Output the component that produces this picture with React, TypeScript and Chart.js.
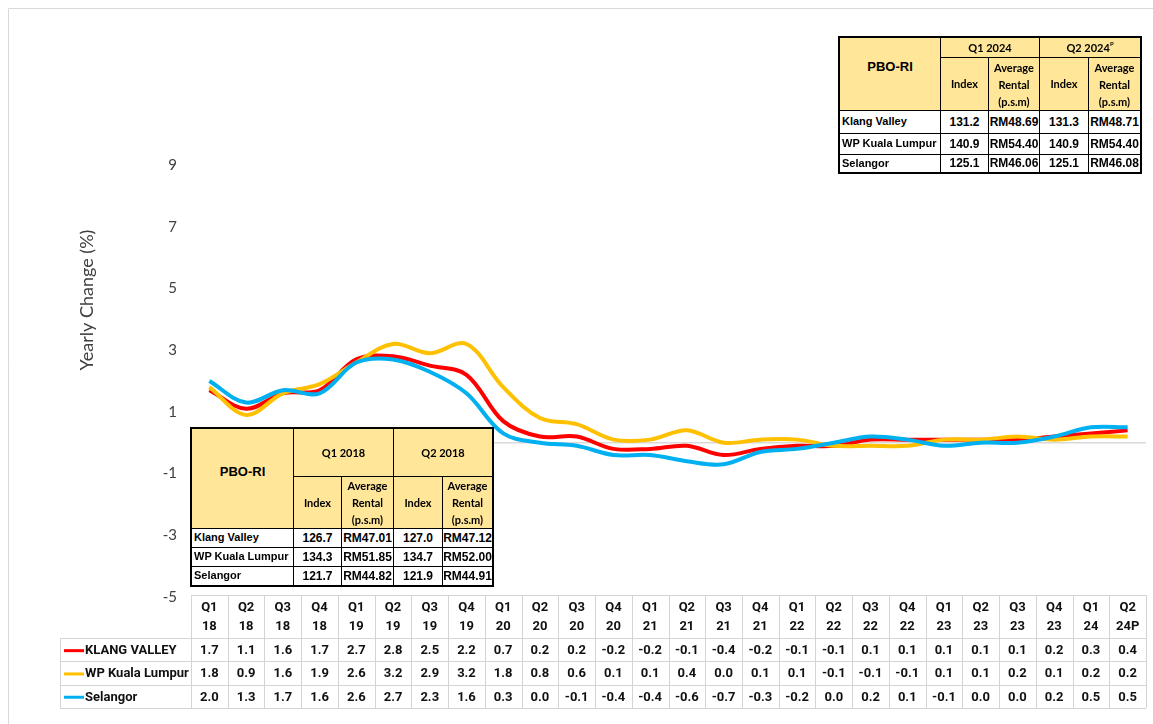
import React, { useEffect, useRef } from 'react';
import { Chart, registerables } from 'chart.js';
Chart.register(...registerables);

// ---------- data ----------
const categories = ['Q1 18', 'Q2 18', 'Q3 18', 'Q4 18', 'Q1 19', 'Q2 19', 'Q3 19', 'Q4 19', 'Q1 20', 'Q2 20', 'Q3 20', 'Q4 20', 'Q1 21', 'Q2 21', 'Q3 21', 'Q4 21', 'Q1 22', 'Q2 22', 'Q3 22', 'Q4 22', 'Q1 23', 'Q2 23', 'Q3 23', 'Q4 23', 'Q1 24', 'Q2 24P'];
const klangValley = [1.7, 1.1, 1.6, 1.7, 2.7, 2.8, 2.5, 2.2, 0.7, 0.2, 0.2, -0.2, -0.2, -0.1, -0.4, -0.2, -0.1, -0.1, 0.1, 0.1, 0.1, 0.1, 0.1, 0.2, 0.3, 0.4];
const wpKualaLumpur = [1.8, 0.9, 1.6, 1.9, 2.6, 3.2, 2.9, 3.2, 1.8, 0.8, 0.6, 0.1, 0.1, 0.4, 0.0, 0.1, 0.1, -0.1, -0.1, -0.1, 0.1, 0.1, 0.2, 0.1, 0.2, 0.2];
const selangor = [2.0, 1.3, 1.7, 1.6, 2.6, 2.7, 2.3, 1.6, 0.3, 0.0, -0.1, -0.4, -0.4, -0.6, -0.7, -0.3, -0.2, 0.0, 0.2, 0.1, -0.1, 0.0, 0.0, 0.2, 0.5, 0.5];
const seriesNames = ['KLANG VALLEY', 'WP Kuala Lumpur', 'Selangor'];
const seriesColors = ['#FF0000', '#FFC000', '#00B0F0'];
const yMin = -5;
const yMax = 9;
const yStep = 2;
const yTitle = 'Yearly Change (%)';

// overlay tables
const tableTitle = 'PBO-RI';
const regionNames = ['Klang Valley', 'WP Kuala Lumpur', 'Selangor'];
const early1Period = 'Q1 2018';
const early1Index = ['126.7', '134.3', '121.7'];
const early1Rental = ['RM47.01', 'RM51.85', 'RM44.82'];
const early2Period = 'Q2 2018';
const early2Index = ['127.0', '134.7', '121.9'];
const early2Rental = ['RM47.12', 'RM52.00', 'RM44.91'];
const late1Period = 'Q1 2024';
const late1Index = ['131.2', '140.9', '125.1'];
const late1Rental = ['RM48.69', 'RM54.40', 'RM46.06'];
const late2Period = 'Q2 2024';
const late2Index = ['131.3', '140.9', '125.1'];
const late2Rental = ['RM48.71', 'RM54.40', 'RM46.08'];

const seriesData = [klangValley, wpKualaLumpur, selangor];

const fmt = (v: number) => v.toFixed(1);

const CAL = "Lato, 'Open Sans', sans-serif";
const TBL = "Roboto, Lato, sans-serif";
const ARIAL = "'Liberation Sans', Arial, sans-serif";

const frameAndTablePlugin = {
  id: 'frameAndTable',
  beforeDatasetsDraw(chart: any) {
    const { ctx, chartArea } = chart;
    const y0 = chart.scales.y.getPixelForValue(0);
    ctx.save();
    ctx.strokeStyle = '#d9d9d9';
    ctx.lineWidth = 1.5;
    ctx.beginPath();
    ctx.moveTo(chartArea.left, y0);
    ctx.lineTo(chartArea.right, y0);
    ctx.stroke();
    ctx.restore();
  },
  afterDraw(chart: any) {
    const { ctx, chartArea, width } = chart;
    ctx.save();
    // outer chart frame (top / left visible)
    ctx.strokeStyle = '#d9d9d9';
    ctx.lineWidth = 1;
    ctx.beginPath();
    ctx.moveTo(0.5, chart.height);
    ctx.lineTo(0.5, 0.5);
    ctx.lineTo(width, 0.5);
    ctx.stroke();

    // y title
    ctx.save();
    ctx.translate(79, chartArea.top + 135);
    ctx.rotate(-Math.PI / 2);
    ctx.fillStyle = '#404040';
    ctx.font = `18px ${CAL}`;
    ctx.textAlign = 'center';
    ctx.textBaseline = 'middle';
    ctx.fillText(yTitle, 0, 0);
    ctx.restore();

    // data table
    const xs = chart.scales.x;
    const n = categories.length;
    const colW = xs.getPixelForValue(1) - xs.getPixelForValue(0);
    const left = xs.getPixelForValue(0) - colW / 2;
    const right = left + colW * n;
    const top = chartArea.bottom - 2;
    const headBottom = top + 43;
    const rowH = 23.3;
    const rowBottoms = [headBottom + rowH, headBottom + 2 * rowH, headBottom + 3 * rowH];
    const legendLeft = 52;

    ctx.strokeStyle = '#d4d4d4';
    ctx.lineWidth = 1;
    ctx.beginPath();
    const al = (v: number) => Math.round(v) + 0.5;
    ctx.moveTo(left, al(top));
    ctx.lineTo(right, al(top));
    ctx.moveTo(legendLeft, al(headBottom));
    ctx.lineTo(right, al(headBottom));
    rowBottoms.forEach((rb) => {
      ctx.moveTo(legendLeft, al(rb));
      ctx.lineTo(right, al(rb));
    });
    ctx.moveTo(al(legendLeft), headBottom);
    ctx.lineTo(al(legendLeft), rowBottoms[2]);
    for (let i = 0; i <= n; i++) {
      const x = al(left + i * colW);
      ctx.moveTo(x, top);
      ctx.lineTo(x, rowBottoms[2]);
    }
    ctx.stroke();

    ctx.fillStyle = '#111';
    ctx.textAlign = 'center';
    ctx.textBaseline = 'middle';
    ctx.font = `bold 13px ${TBL}`;
    categories.forEach((c, i) => {
      const [q, yr] = c.split(' ');
      const cx = xs.getPixelForValue(i);
      ctx.fillText(q, cx, top + 13);
      ctx.fillText(yr, cx, top + 32);
    });
    seriesData.forEach((arr, s) => {
      const cy = headBottom + rowH * s + rowH / 2 + 1;
      arr.forEach((v, i) => {
        ctx.fillText(fmt(v), xs.getPixelForValue(i), cy);
      });
      // legend key
      ctx.save();
      ctx.strokeStyle = seriesColors[s];
      ctx.lineWidth = 3;
      ctx.beginPath();
      ctx.moveTo(legendLeft + 4, cy);
      ctx.lineTo(legendLeft + 24, cy);
      ctx.stroke();
      ctx.restore();
      ctx.textAlign = 'left';
      ctx.fillText(seriesNames[s], legendLeft + 25, cy);
      ctx.textAlign = 'center';
    });
    ctx.restore();
  },
};

type CellDef = {
  c0: number; c1: number; r0: number; r1: number;
  content: React.ReactNode; bg?: string; align?: 'left' | 'center';
  font: string; size: number; lh?: number;
};

function OverlayTable({ xs, ys, cells }: { xs: number[]; ys: number[]; cells: CellDef[] }) {
  const X0 = xs[0];
  const Y0 = ys[0];
  return (
    <div style={{ position: 'absolute', left: X0, top: Y0, width: xs[xs.length - 1] - X0 + 1, height: ys[ys.length - 1] - Y0 + 1 }}>
      {cells.map((c, i) => (
        <div
          key={i}
          style={{
            position: 'absolute',
            boxSizing: 'border-box',
            left: xs[c.c0] - X0,
            top: ys[c.r0] - Y0,
            width: xs[c.c1] - xs[c.c0] + 1,
            height: ys[c.r1] - ys[c.r0] + 1,
            border: '1px solid #000',
            background: c.bg || '#fff',
            display: 'flex',
            alignItems: 'center',
            justifyContent: c.align === 'left' ? 'flex-start' : 'center',
            textAlign: c.align === 'left' ? 'left' : 'center',
            paddingLeft: c.align === 'left' ? 2 : 0,
            fontFamily: c.font,
            fontWeight: 'bold',
            fontSize: c.size,
            lineHeight: (c.lh || c.size * 1.2) + 'px',
            color: '#000',
            whiteSpace: 'pre',
            overflow: 'hidden',
          }}
        >
          {c.content}
        </div>
      ))}
      <div style={{ position: 'absolute', left: -1, top: -1, width: xs[xs.length - 1] - X0 + 3, height: ys[ys.length - 1] - Y0 + 3, border: '1.5px solid #000', boxSizing: 'border-box', pointerEvents: 'none' }} />
    </div>
  );
}

function buildCells(
  p1: React.ReactNode, p2: React.ReactNode,
  i1: string[], r1: string[], i2: string[], r2: string[],
  titleTop: number
): CellDef[] {
  const HB = '#FFE699';
  const cells: CellDef[] = [
    { c0: 0, c1: 1, r0: 0, r1: 2, content: <span style={{ marginTop: titleTop }}>{tableTitle}</span>, bg: HB, font: ARIAL, size: 13 },
    { c0: 1, c1: 3, r0: 0, r1: 1, content: p1, bg: HB, font: CAL, size: 11 },
    { c0: 3, c1: 5, r0: 0, r1: 1, content: p2, bg: HB, font: CAL, size: 11 },
    { c0: 1, c1: 2, r0: 1, r1: 2, content: 'Index', bg: HB, font: CAL, size: 11 },
    { c0: 2, c1: 3, r0: 1, r1: 2, content: 'Average\nRental\n(p.s.m)', bg: HB, font: CAL, size: 11, lh: 17 },
    { c0: 3, c1: 4, r0: 1, r1: 2, content: 'Index', bg: HB, font: CAL, size: 11 },
    { c0: 4, c1: 5, r0: 1, r1: 2, content: 'Average\nRental\n(p.s.m)', bg: HB, font: CAL, size: 11, lh: 17 },
  ];
  regionNames.forEach((name, k) => {
    const r = 2 + k;
    cells.push({ c0: 0, c1: 1, r0: r, r1: r + 1, content: name, align: 'left', font: ARIAL, size: 11 });
    cells.push({ c0: 1, c1: 2, r0: r, r1: r + 1, content: i1[k], font: ARIAL, size: 12 });
    cells.push({ c0: 2, c1: 3, r0: r, r1: r + 1, content: r1[k], font: ARIAL, size: 12 });
    cells.push({ c0: 3, c1: 4, r0: r, r1: r + 1, content: i2[k], font: ARIAL, size: 12 });
    cells.push({ c0: 4, c1: 5, r0: r, r1: r + 1, content: r2[k], font: ARIAL, size: 12 });
  });
  return cells;
}

export default function App() {
  const canvasRef = useRef<HTMLCanvasElement | null>(null);

  useEffect(() => {
    if (!canvasRef.current) return;
    let alive = true;
    const chart = new Chart(canvasRef.current, {
      type: 'line',
      data: {
        labels: categories,
        datasets: seriesData.map((d, s) => ({
          label: seriesNames[s],
          data: d,
          borderColor: seriesColors[s],
          backgroundColor: seriesColors[s],
          borderWidth: 4,
          pointRadius: 0,
          tension: 0.35,
          fill: false,
          order: 3 - s,
        })),
      },
      options: {
        animation: false,
        responsive: true,
        maintainAspectRatio: false,
        layout: { padding: { left: 0, right: 7, top: 157, bottom: 127 } },
        plugins: { legend: { display: false }, tooltip: { enabled: false } },
        scales: {
          x: { type: 'category', offset: true, display: false },
          y: {
            min: yMin,
            max: yMax,
            ticks: { stepSize: yStep, padding: 14, color: '#404040', font: { family: CAL, size: 15 } },
            grid: { display: false, drawTicks: false },
            border: { display: false },
            afterFit: (s: any) => { s.width = 183; },
          },
        },
      },
      plugins: [frameAndTablePlugin],
    } as any);
    const fonts: any = (document as any).fonts;
    if (fonts && fonts.load) {
      Promise.all([fonts.load('bold 13px Roboto'), fonts.load('18px Lato'), fonts.load('15px Lato')])
        .then(() => { if (alive) chart.update(); })
        .catch(() => {});
    }
    return () => { alive = false; chart.destroy(); };
  }, []);

  const lateCells = buildCells(
    late1Period,
    <span>{late2Period}<sup style={{ fontSize: 6, verticalAlign: 'top', lineHeight: '6px' }}>P</sup></span>,
    late1Index, late1Rental, late2Index, late2Rental, -14
  );
  const earlyCells = buildCells(
    early1Period, early2Period,
    early1Index, early1Rental, early2Index, early2Rental, -14
  );

  return (
    <div style={{ position: 'fixed', left: 0, top: 0, width: 1153, height: 724, overflow: 'hidden', background: '#fff' }}>
      <div style={{ position: 'absolute', left: 8, top: 8, width: 1145, height: 716 }}>
        <canvas ref={canvasRef} />
      </div>
      <OverlayTable xs={[839, 940, 988, 1039, 1088, 1140]} ys={[37, 57, 110, 133, 154, 172]} cells={lateCells} />
      <OverlayTable xs={[191, 293, 341, 393, 442, 492]} ys={[428, 476, 528, 547, 566, 585]} cells={earlyCells} />
    </div>
  );
}
